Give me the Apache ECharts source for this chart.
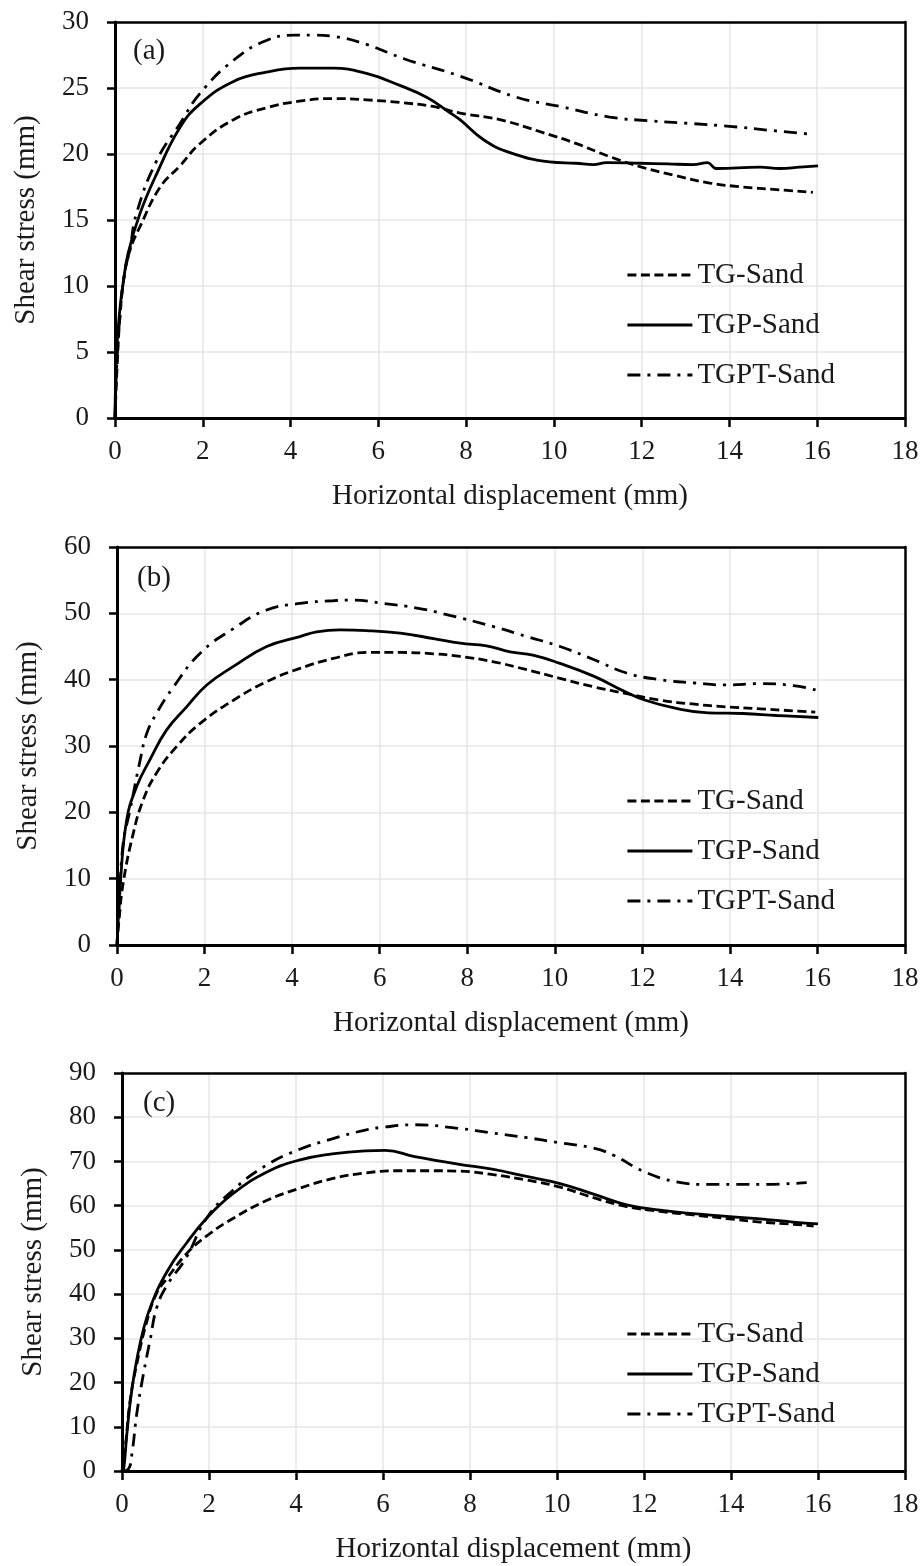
<!DOCTYPE html>
<html>
<head>
<meta charset="utf-8">
<script src="https://cdn.jsdelivr.net/npm/echarts@6/dist/echarts.min.js"></script>
<style>
html,body{margin:0;padding:0;background:#fff;}
#chart{width:924px;height:1566px;}
</style>
</head>
<body>
<div id="chart"></div>
<script>
// ---------- data ----------
var seriesNames = ['TG-Sand', 'TGP-Sand', 'TGPT-Sand'];
var panelLabels = ['(a)', '(b)', '(c)'];
var xTitle = 'Horizontal displacement (mm)';
var yTitle = 'Shear stress (mm)';
var yMax = [30, 60, 90];
var yStep = [5, 10, 10];

var a_TG = [[0,0],[0.05,4],[0.12,8],[0.22,11],[0.35,12.8],[0.57,14.5],[1.03,17.5],[1.48,19.1],[1.94,20.8],[2.7,22.6],[3.45,23.5],[4.2,24.0],[4.97,24.2],[5.73,24.1],[6.49,23.9],[7.25,23.6],[7.86,23.1],[8.77,22.6],[9.77,21.6],[10.5,20.8],[11.27,19.8],[12,19.0],[12.73,18.4],[13.55,17.8],[14.31,17.5],[15.07,17.3],[15.9,17.1]];
var a_TGP = [[0,0],[0.04,5.2],[0.12,8.5],[0.19,10.3],[0.3,12.5],[0.57,15.5],[0.95,18.5],[1.48,22],[1.94,23.8],[2.7,25.5],[3.45,26.2],[4.2,26.5],[4.97,26.5],[5.73,26.1],[6.49,25.2],[7.1,24.3],[7.6,23.2],[7.86,22.6],[8.39,21.1],[9,20.1],[9.9,19.4],[10.5,19.3],[10.9,19.2],[11.2,19.35],[11.96,19.3],[12.6,19.25],[13.17,19.2],[13.5,19.35],[13.7,18.9],[14.7,19.0],[15.15,18.9],[15.6,19.0],[16.02,19.1]];
var a_TGPT = [[0,0],[0.04,4],[0.12,8],[0.22,11],[0.34,12.8],[0.49,15.5],[0.95,19.5],[1.48,22.3],[1.94,24.6],[2.7,27.1],[3.45,28.6],[4.1,29.0],[4.5,29.0],[5.0,28.9],[5.73,28.3],[6.6,27.2],[7.86,25.9],[9.15,24.3],[10.14,23.6],[11.27,22.8],[12.26,22.5],[13.17,22.3],[14,22.1],[14.9,21.8],[15.87,21.5]];

var b_TG = [[0,0],[0.05,4],[0.14,9.3],[0.37,16.8],[0.6,21.9],[0.9,25.9],[1.36,29.9],[1.9,33.4],[2.66,36.9],[3.42,39.7],[4.18,41.7],[4.94,43.2],[5.7,44.1],[6.47,44.1],[7.23,43.9],[7.84,43.5],[8.6,42.7],[9.36,41.5],[10.12,40.2],[10.9,38.9],[11.64,37.9],[12.4,36.9],[13.2,36.3],[13.9,35.9],[14.7,35.6],[15.45,35.3],[15.95,35.1]];
var b_TGP = [[0,0],[0.03,4],[0.07,8.8],[0.22,18.8],[0.45,23.9],[0.75,27.9],[1.13,32.4],[1.59,35.9],[2.05,39.2],[2.66,42],[3.42,45],[4.18,46.5],[4.56,47.2],[5.09,47.5],[5.7,47.4],[6.47,47],[7.23,46.2],[7.84,45.5],[8.44,45.1],[8.98,44.2],[9.5,43.7],[10.1,42.5],[10.9,40.5],[11.6,38.2],[12.07,36.9],[12.75,35.7],[13.5,35.0],[14.3,34.9],[15.07,34.6],[16.02,34.3]];
var b_TGPT = [[0,0],[0.05,6],[0.14,15.3],[0.3,20.4],[0.53,27.9],[0.68,31.9],[0.9,34.9],[1.29,38.9],[1.9,44],[2.66,47.7],[3.42,50.5],[4.18,51.5],[4.94,51.9],[5.4,52],[6.08,51.5],[6.85,50.8],[7.6,49.7],[8.6,48],[9.36,46.5],[10.12,45],[10.9,43],[11.64,41],[12.4,40],[13.2,39.5],[13.9,39.2],[14.7,39.4],[15.45,39.1],[15.99,38.4]];

var c_TG = [[0,0],[0.08,5.8],[0.19,16.2],[0.34,24.2],[0.57,33.8],[0.8,40.3],[1.03,43.5],[1.48,49.1],[1.94,53.1],[2.55,57.1],[3.31,61.1],[4.07,63.9],[4.83,66.1],[5.59,67.4],[6.35,67.9],[7.11,67.9],[7.77,67.8],[8.54,67],[9.3,65.8],[10.07,64.2],[10.84,61.8],[11.6,59.8],[12.37,58.7],[13.13,57.9],[13.9,57.1],[14.67,56.3],[15.43,55.8],[15.9,55.4]];
var c_TGP = [[0,0],[0.04,0.5],[0.11,8.2],[0.23,18.6],[0.42,29],[0.65,37],[1.03,45],[1.48,51.5],[1.94,57.1],[2.55,62.7],[3.31,67.5],[4.07,70.3],[4.83,71.7],[5.59,72.4],[6.05,72.5],[6.73,71.1],[7.72,69.4],[8.54,68.2],[9.3,66.6],[10.07,65],[10.84,62.6],[11.6,60.2],[12.37,59],[13.13,58.2],[13.9,57.6],[14.67,57],[15.43,56.3],[16,55.9]];
var c_TGPT = [[0,0],[0.15,0.5],[0.23,4],[0.34,13],[0.49,21.8],[0.65,29.8],[0.8,37],[1.03,41.9],[1.48,48.3],[1.94,57.1],[2.55,63.5],[3.31,69.1],[4.07,72.7],[4.83,75.1],[5.59,77.1],[5.97,77.7],[6.73,78.3],[7.72,77.5],[8.54,76.4],[9.3,75.4],[10.07,74.2],[10.84,73],[11.3,71.4],[11.98,67.8],[12.75,65.4],[13.52,64.8],[14.28,64.8],[14.67,64.8],[15.74,65.2]];

var panelData = [[a_TG, a_TGP, a_TGPT], [b_TG, b_TGP, b_TGPT], [c_TG, c_TGP, c_TGPT]];

// ---------- layout / style ----------
var FONT = 'Liberation Serif, Times New Roman, serif';
var TXT = '#1a1a1a';
var grids = [
  {left: 115, top: 22, width: 790, height: 396},
  {left: 117, top: 547, width: 788, height: 398},
  {left: 122, top: 1073, width: 783, height: 398}
];
var legendTops = [255, 781, 1314];
var legendGaps = [20, 20, 10];
var labelPos = [[133, 53], [137, 580], [143, 1105]];
var lineTypes = [[9, 4.5], 'solid', [13, 7, 3, 7]];

var option = {
  animation: false,
  backgroundColor: '#fff',
  grid: [], xAxis: [], yAxis: [], series: [], legend: [], graphic: []
};

var gridLine = {show: true, showMinLine: false, showMaxLine: false, lineStyle: {color: '#e6e6e6', width: 1.5}};

grids.forEach(function (g, i) {
  option.grid.push({left: g.left, top: g.top, width: g.width, height: g.height, show: false});
  option.xAxis.push({
    type: 'value', gridIndex: i, position: 'bottom', min: 0, max: 18, interval: 2,
    name: xTitle, nameLocation: 'middle', nameGap: 64,
    nameTextStyle: {fontFamily: FONT, fontSize: 29, color: TXT},
    axisLine: {show: true, onZero: false, lineStyle: {color: '#000', width: 3}},
    axisTick: {show: true, inside: false, length: 9, lineStyle: {color: '#000', width: 2.5}},
    axisLabel: {margin: 20, fontFamily: FONT, fontSize: 27, color: TXT},
    splitLine: gridLine, z: 2
  });
  option.yAxis.push({
    type: 'value', gridIndex: i, position: 'left', min: 0, max: yMax[i], interval: yStep[i],
    name: yTitle, nameLocation: 'middle', nameGap: 74, nameRotate: 90,
    nameTextStyle: {fontFamily: FONT, fontSize: 29, color: TXT},
    axisLine: {show: true, onZero: false, lineStyle: {color: '#000', width: 3}},
    axisTick: {show: true, inside: false, length: 8, lineStyle: {color: '#000', width: 2.5}},
    axisLabel: {margin: 26, fontFamily: FONT, fontSize: 27, color: TXT},
    splitLine: gridLine, z: 2
  });
});
// frame: top and right axes (lines only)
grids.forEach(function (g, i) {
  option.xAxis.push({
    type: 'value', gridIndex: i, position: 'top', min: 0, max: 18, interval: 2,
    axisLine: {show: true, onZero: false, lineStyle: {color: '#000', width: 2.5}},
    axisTick: {show: false}, axisLabel: {show: false}, splitLine: {show: false}, z: 2
  });
  option.yAxis.push({
    type: 'value', gridIndex: i, position: 'right', min: 0, max: yMax[i], interval: yStep[i],
    axisLine: {show: true, onZero: false, lineStyle: {color: '#000', width: 2.5}},
    axisTick: {show: false}, axisLabel: {show: false}, splitLine: {show: false}, z: 2
  });
});

grids.forEach(function (g, i) {
  panelData[i].forEach(function (d, k) {
    option.series.push({
      type: 'line', name: seriesNames[k], xAxisIndex: i, yAxisIndex: i,
      data: d, showSymbol: false, symbol: 'none', smooth: 0.45,
      lineStyle: {color: '#000', width: 2.8, type: lineTypes[k]},
      itemStyle: {color: '#000'},
      z: 3 + k
    });
  });
  option.legend.push({
    orient: 'vertical', left: 621, top: legendTops[i], itemGap: legendGaps[i],
    itemWidth: 65, itemHeight: 14, selectedMode: false, z: 10,
    itemStyle: {color: 'transparent', borderWidth: 0, opacity: 0},
    lineStyle: {width: 2.8, color: '#000'},
    data: seriesNames.map(function (n) { return {name: n}; }),
    textStyle: {fontFamily: FONT, fontSize: 29, color: TXT, lineHeight: 30}
  });
  option.graphic.push({
    type: 'text', left: labelPos[i][0], top: labelPos[i][1] - 16, z: 10,
    style: {text: panelLabels[i], font: '29px ' + FONT, fill: TXT}
  });
});

var chart = echarts.init(document.getElementById('chart'), null, {renderer: 'canvas'});
chart.setOption(option);
</script>
</body>
</html>
